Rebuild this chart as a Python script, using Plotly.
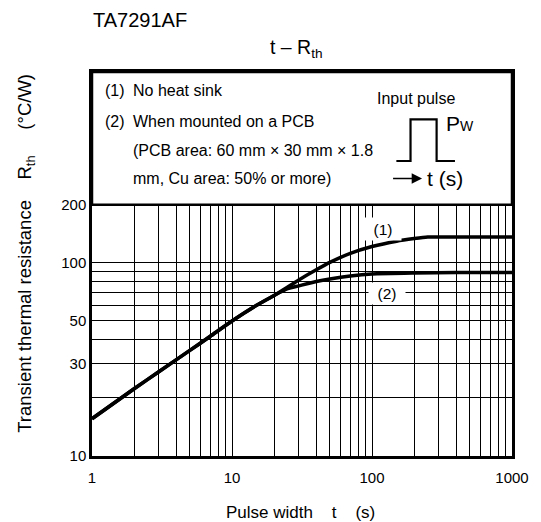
import math
import plotly.graph_objects as go

# ---- data ----
t_no_sink = [1, 2, 3, 5, 7, 10, 15, 20, 25, 30, 40, 50, 70, 100, 150, 200, 250, 400, 1000]
r_no_sink = [15.6, 22.3, 27.3, 35.2, 41.7, 50, 60.3, 67.8, 75, 81.5, 92, 100.5, 112, 121.5, 129.5, 133.5, 136, 136, 136]

t_pcb = [1, 2, 3, 5, 7, 10, 15, 20, 25, 30, 40, 50, 70, 100, 200, 400, 1000]
r_pcb = [15.6, 22.3, 27.3, 35.2, 41.7, 50, 60.3, 67.8, 73.5, 76, 80, 82.5, 85.5, 87.5, 88.5, 89, 89]

x_tick_vals = [1, 10, 100, 1000]
x_tick_text = ["1", "10", "100", "1000"]
x_minor_vals = [2, 3, 4, 5, 6, 7, 8, 9, 20, 30, 40, 50, 60, 70, 80, 90,
                200, 300, 400, 500, 600, 700, 800, 900]
y_tick_vals = [10, 30, 50, 100, 200]
y_tick_text = ["10", "30", "50", "100", "200"]
y_minor_vals = [20, 40, 60, 70, 80, 90]

label_no_sink = "(1)"
label_pcb = "(2)"
legend_lines = [
    ("(1)", "No heat sink"),
    ("(2)", "When mounted on a PCB"),
    ("", "(PCB area: 60 mm \u00d7 30 mm \u00d7 1.8"),
    ("", "mm, Cu area: 50% or more)"),
]

FONT = "Liberation Sans, Arial, Helvetica, sans-serif"
OFF = 8  # page body margin
W, H = 541 - OFF, 522 - OFF
ML, MT = 92 - OFF, 72 - OFF
MR = W - (517 - OFF)
MB = H - (456 - OFF)
PW, PH = W - ML - MR, H - MT - MB
Y_RANGE = [1, 2.988]


def px2paper_x(px):
    return (px - OFF - ML) / PW


def px2paper_y(py):
    return (H - MB - (py - OFF)) / PH


fig = go.Figure()
fig.add_trace(go.Scatter(x=t_no_sink, y=r_no_sink, mode="lines",
                         line=dict(color="black", width=3.5, shape="spline", smoothing=0.6),
                         hoverinfo="skip"))
fig.add_trace(go.Scatter(x=t_pcb, y=r_pcb, mode="lines",
                         line=dict(color="black", width=3.5, shape="spline", smoothing=0.6),
                         hoverinfo="skip"))

fig.update_layout(
    width=W, height=H,
    margin=dict(l=ML, r=MR, t=MT, b=MB, pad=0),
    paper_bgcolor="white", plot_bgcolor="white",
    showlegend=False,
    font=dict(family=FONT, color="black", size=15),
)

fig.update_xaxes(
    type="log", range=[0, 3],
    tickvals=x_tick_vals, ticktext=x_tick_text,
    showgrid=True, gridcolor="black", gridwidth=1.2,
    minor=dict(tickvals=x_minor_vals, showgrid=True, gridcolor="black", gridwidth=1.2, ticks=""),
    showline=True, linecolor="black", linewidth=2.5, mirror=True,
    ticks="", zeroline=False, tickfont=dict(size=15), ticklabelstandoff=6,
)
fig.update_yaxes(
    type="log", range=Y_RANGE,
    tickvals=y_tick_vals, ticktext=y_tick_text,
    showgrid=True, gridcolor="black", gridwidth=1.2,
    minor=dict(tickvals=y_minor_vals, showgrid=True, gridcolor="black", gridwidth=1.2, ticks=""),
    showline=True, linecolor="black", linewidth=2.5, mirror=True,
    ticks="", zeroline=False, tickfont=dict(size=15),
)

# white legend area above the 200 line (framed like the plot border)
y200 = (math.log10(200) - Y_RANGE[0]) / (Y_RANGE[1] - Y_RANGE[0])
fig.add_shape(type="rect", xref="paper", yref="paper",
              x0=0, x1=1, y0=y200, y1=1,
              fillcolor="white", line=dict(color="black", width=2.5), layer="above")

ann = []
# titles
ann.append(dict(text="TA7291AF", xref="paper", yref="paper", x=px2paper_x(91), y=px2paper_y(20),
                xanchor="left", yanchor="middle", showarrow=False, font=dict(size=20)))
ann.append(dict(text="t \u2013 R<sub>th</sub>", xref="paper", yref="paper", x=px2paper_x(270), y=px2paper_y(48),
                xanchor="left", yanchor="middle", showarrow=False, font=dict(size=19.5)))
# axis titles
ann.append(dict(text="Transient thermal resistance\u00a0\u00a0\u00a0\u00a0R<sub>th</sub>\u00a0\u00a0\u00a0\u00a0\u00a0(\u00b0C/W)",
                xref="paper", yref="paper", x=px2paper_x(25), y=px2paper_y(253),
                xanchor="center", yanchor="middle", textangle=-90, showarrow=False, font=dict(size=18.5)))
ann.append(dict(text="Pulse width\u00a0\u00a0\u00a0\u00a0t\u00a0\u00a0\u00a0\u00a0(s)",
                xref="paper", yref="paper", x=px2paper_x(226), y=px2paper_y(512),
                xanchor="left", yanchor="middle", showarrow=False, font=dict(size=17)))
# legend text
row_y = [90, 121.7, 150, 178]
for (num, txt), ry in zip(legend_lines, row_y):
    if num:
        ann.append(dict(text=num, xref="paper", yref="paper", x=px2paper_x(103), y=px2paper_y(ry),
                        xanchor="left", yanchor="middle", showarrow=False, font=dict(size=16)))
    ann.append(dict(text=txt, xref="paper", yref="paper", x=px2paper_x(131.5), y=px2paper_y(ry),
                    xanchor="left", yanchor="middle", showarrow=False, font=dict(size=16)))
# input pulse sketch
ann.append(dict(text="Input pulse", xref="paper", yref="paper", x=px2paper_x(420), y=px2paper_y(98),
                xanchor="center", yanchor="middle", showarrow=False, font=dict(size=16)))
ann.append(dict(text="P<span style='font-size:14px'>W</span>", xref="paper", yref="paper",
                x=px2paper_x(448), y=px2paper_y(124), xanchor="left", yanchor="middle",
                showarrow=False, font=dict(size=21)))
ann.append(dict(text=" ", xref="paper", yref="paper", x=px2paper_x(426), y=px2paper_y(178.5),
                ax=-31, ay=0, showarrow=True, arrowhead=2, arrowsize=1.3, arrowwidth=1.6,
                arrowcolor="black", standoff=0, font=dict(size=2)))
ann.append(dict(text="t (s)", xref="paper", yref="paper", x=px2paper_x(429), y=px2paper_y(178),
                xanchor="left", yanchor="middle", showarrow=False, font=dict(size=21)))
# curve labels
ann.append(dict(text=label_no_sink, xref="x", yref="y", x=math.log10(120), y=math.log10(149.5),
                showarrow=False, bgcolor="white", width=34, height=20, font=dict(size=15.5)))
ann.append(dict(text=label_pcb, xref="x", yref="y", x=math.log10(127), y=math.log10(69),
                showarrow=False, bgcolor="white", width=34, height=19, font=dict(size=15.5)))
fig.update_layout(annotations=ann)

# pulse shape
xs = [px2paper_x(v) for v in (400, 414.3, 414.3, 440.7, 440.7, 459.3)]
ys = [px2paper_y(v) for v in (161, 161, 119.3, 119.3, 161, 161)]
path = "M " + " L ".join(f"{a:.4f},{b:.4f}" for a, b in zip(xs, ys))
fig.add_shape(type="path", xref="paper", yref="paper", path=path,
              line=dict(color="black", width=2.2), layer="above")

fig.write_html("out.html")
